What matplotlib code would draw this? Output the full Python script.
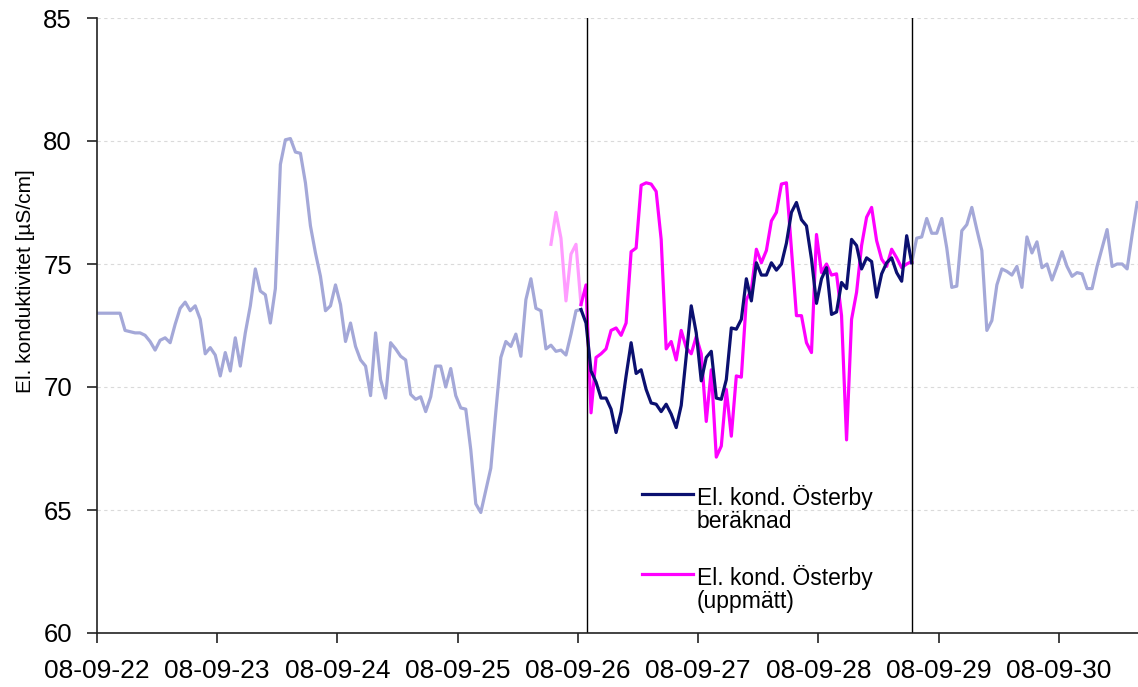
import matplotlib
matplotlib.use("Agg")
import matplotlib.pyplot as plt
import matplotlib.dates as mdates
import numpy as np
import pandas as pd

plt.rcParams['font.family'] = ['Liberation Sans', 'DejaVu Sans']

# hourly series, first sample 2008-09-21 23:36
start = pd.Timestamp("2008-09-21 23:36")

# calculated conductivity Österby [µS/cm], one value per hour
beraknad = [
    73.0, 73.0, 73.0, 73.0, 73.0, 73.0, 72.3, 72.25, 72.2, 72.2, 72.1, 71.85,
    71.5, 71.9, 72.0, 71.8, 72.55, 73.2, 73.45, 73.1, 73.3, 72.75, 71.35, 71.6,
    71.3, 70.45, 71.4, 70.65, 72.0, 70.85, 72.2, 73.3, 74.8, 73.9, 73.75, 72.6,
    74.0, 79.05, 80.05, 80.1, 79.55, 79.5, 78.3, 76.55, 75.45, 74.5, 73.1, 73.3,
    74.15, 73.35, 71.85, 72.6, 71.65, 71.1, 70.85, 69.65, 72.2, 70.3, 69.55, 71.8,
    71.55, 71.25, 71.1, 69.7, 69.5, 69.6, 69.0, 69.6, 70.85, 70.85, 70.0, 70.75,
    69.65, 69.15, 69.1, 67.45, 65.25, 64.9, 65.8, 66.7, 69.0, 71.2, 71.85, 71.65,
    72.15, 71.25, 73.55, 74.4, 73.2, 73.1, 71.55, 71.7, 71.45, 71.5, 71.3, 72.15,
    73.1, 73.15, 72.6, 70.65, 70.2, 69.55, 69.55, 69.1, 68.15, 69.0, 70.45, 71.8,
    70.55, 70.7, 69.9, 69.35, 69.3, 69.0, 69.3, 68.9, 68.35, 69.25, 71.25, 73.3,
    72.2, 70.25, 71.2, 71.45, 69.55, 69.5, 70.3, 72.4, 72.35, 72.75, 74.4, 73.5,
    75.05, 74.55, 74.55, 75.05, 74.75, 75.0, 75.85, 77.1, 77.5, 76.8, 76.55, 75.2,
    73.4, 74.4, 74.85, 72.95, 73.05, 74.25, 74.0, 76.0, 75.75, 74.8, 75.25, 75.1,
    73.65, 74.6, 75.05, 75.25, 74.65, 74.3, 76.15, 75.05, 76.05, 76.1, 76.85, 76.25,
    76.25, 76.85, 75.65, 74.05, 74.1, 76.35, 76.6, 77.3, 76.4, 75.55, 72.3, 72.7,
    74.15, 74.8, 74.7, 74.55, 74.9, 74.05, 76.1, 75.45, 75.9, 74.85, 75.0, 74.35,
    74.9, 75.5, 74.9, 74.5, 74.65, 74.6, 74.0, 74.0, 74.9, 75.65, 76.4, 74.9,
    75.0, 75.0, 74.8, 76.2, 77.5,
]

# measured conductivity Österby, starts at hour index 91
uppmatt_offset = 91
uppmatt = [
    75.8, 77.1, 76.05, 73.5, 75.4, 75.8,
    73.35, 74.15, 68.95, 71.2, 71.35, 71.55, 72.3, 72.4, 72.1, 72.6, 75.5, 75.65,
    78.2, 78.3, 78.25, 77.95, 76.0, 71.55, 71.85, 71.1, 72.3, 71.6, 71.35, 72.05,
    71.35, 68.6, 70.7, 67.15, 67.6, 69.9, 68.0, 70.45, 70.4, 73.55, 73.95, 75.6,
    75.05, 75.55, 76.75, 77.1, 78.25, 78.3, 75.6, 72.9, 72.9, 71.8, 71.4, 76.2,
    74.65, 75.0, 74.55, 74.6, 72.9, 67.85, 72.75, 73.85, 75.75, 76.9, 77.3, 75.95,
    75.2, 74.9, 75.6, 75.25, 74.85, 75.0, 75.1,
]

# comparison period (hour indices) and marker lines
win_start, win_end = 97, 163
markers = [pd.Timestamp("2008-09-26 01:44"), pd.Timestamp("2008-09-28 18:36")]

t_ber = pd.date_range(start, periods=len(beraknad), freq="h")
t_upp = pd.date_range(start + pd.Timedelta(hours=uppmatt_offset), periods=len(uppmatt), freq="h")
ber = np.array(beraknad)
upp = np.array(uppmatt)
u0 = win_start - uppmatt_offset

fig = plt.figure(figsize=(11.38, 6.87), dpi=100)
ax = fig.add_axes([97 / 1138, 1 - 633 / 687, 1 - 97 / 1138, 615 / 687])

light_blue = "#a4a8d8"
navy = "#0b1070"
light_pink = "#ff9cff"
magenta = "#ff00ff"

# light parts outside the comparison period
ax.plot(t_ber[:win_start + 1], ber[:win_start + 1], color=light_blue, lw=2.3)
ax.plot(t_ber[win_end:], ber[win_end:], color=light_blue, lw=2.3)
ax.plot(t_upp[:u0 + 1], upp[:u0 + 1], color=light_pink, lw=2.3)

# comparison period
ax.plot(t_upp[u0:], upp[u0:], color=magenta, lw=2.3, label="El. kond. Österby\n(uppmätt)")
ax.plot(t_ber[win_start:win_end + 1], ber[win_start:win_end + 1], color=navy, lw=2.3,
        label="El. kond. Österby\nberäknad")

for m in markers:
    ax.axvline(m, color="black", lw=1.0)

ax.set_ylim(60, 85)
ax.set_yticks([60, 65, 70, 75, 80, 85])
ax.set_xlim(pd.Timestamp("2008-09-22"), pd.Timestamp("2008-09-22") + pd.Timedelta(days=8.657))
ax.xaxis.set_major_locator(mdates.DayLocator())
ax.xaxis.set_major_formatter(mdates.DateFormatter("%y-%m-%d"))

ax.yaxis.grid(True, linestyle=(0, (3, 3)), color="#dadada", lw=0.8)
ax.set_axisbelow(True)
for side in ["top", "right"]:
    ax.spines[side].set_visible(False)
for side in ["left", "bottom"]:
    ax.spines[side].set_color("#222222")
    ax.spines[side].set_linewidth(1.2)

ax.tick_params(axis="y", direction="out", length=7, width=1.2, pad=11, labelsize=18.5, colors="#222222")
ax.tick_params(axis="x", direction="out", length=7, width=1.2, pad=12, labelsize=19, colors="#222222")
for lbl in ax.get_xticklabels() + ax.get_yticklabels():
    lbl.set_color("black")

ax.set_ylabel("El. konduktivitet [µS/cm]", fontsize=15)
ax.yaxis.set_label_coords(-0.06, 0.572)

handles, labels = ax.get_legend_handles_labels()
leg = ax.legend(handles[::-1], labels[::-1], loc="upper left", bbox_to_anchor=(0.504, 0.275),
                frameon=False, fontsize=16.5, handlelength=2.2, handletextpad=0.17,
                handleheight=1.1, labelspacing=1.4)
# put each legend line next to the first row of its label
for col in leg._legend_handle_box.get_children():
    for item in col.get_children():
        item.align = "top"
for t in leg.get_texts():
    t.set_linespacing(1.0)

fig.savefig("out.png", dpi=100)
